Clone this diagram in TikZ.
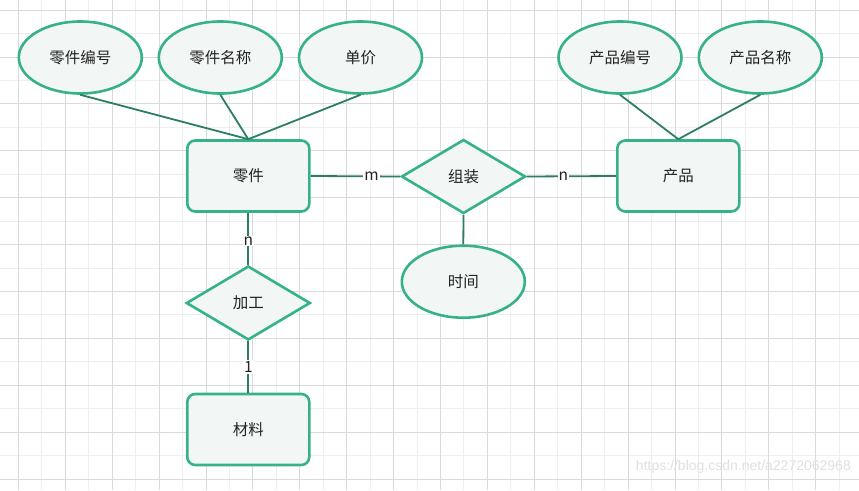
\documentclass[tikz,border=0pt]{standalone}
\usepackage{fontspec}
\setmainfont{Noto Sans CJK SC}
\newfontfamily\wmfont{Liberation Sans}
\usetikzlibrary{shapes.geometric}
\definecolor{shapeline}{HTML}{36B28B}
\definecolor{shapefill}{HTML}{F2F7F5}
\definecolor{conn}{HTML}{2D7D64}
\definecolor{gridmajor}{HTML}{DADADA}
\definecolor{gridminor}{HTML}{EEEEEE}
\definecolor{txt}{HTML}{222222}
\tikzset{
  attr/.style={ellipse, draw=shapeline, fill=shapefill, line width=2.6pt, inner sep=0pt,
    minimum width=123pt, minimum height=72pt, font=\fontsize{15.5}{18}\selectfont, text=txt},
  entity/.style={rectangle, rounded corners=8pt, draw=shapeline, fill=shapefill, line width=2.6pt,
    inner sep=0pt, minimum width=122pt, minimum height=71pt, font=\fontsize{15.5}{18}\selectfont, text=txt},
  rel/.style={diamond, draw=shapeline, fill=shapefill, line width=2.6pt, inner sep=0pt,
    minimum width=124pt, minimum height=74pt, font=\fontsize{15.5}{18}\selectfont, text=txt},
  link/.style={draw=conn, line width=1.8pt},
  card/.style={fill=white, inner sep=1pt, text=txt, font=\fontsize{15.5}{18}\selectfont},
}
\begin{document}
\begin{tikzpicture}[x=1pt, y=-1pt]
\useasboundingbox (0,0) rectangle (859,490);
\fill[white] (0,0) rectangle (859,490);
% grid
\foreach \k in {-1,...,18} {
  \draw[gridminor, line width=0.8pt] ({41.75+46.9*\k},0) -- ({41.75+46.9*\k},490);
}
\foreach \k in {-1,...,10} {
  \draw[gridminor, line width=0.8pt] (0,{33.45+46.9*\k}) -- (859,{33.45+46.9*\k});
}
\foreach \k in {0,...,18} {
  \draw[gridmajor, line width=0.8pt] ({18.3+46.9*\k},0) -- ({18.3+46.9*\k},490);
}
\foreach \k in {0,...,10} {
  \draw[gridmajor, line width=0.8pt] (0,{10+46.9*\k}) -- (859,{10+46.9*\k});
}
% watermark
\node[anchor=east, text=gridmajor!85, font=\wmfont\fontsize{14}{16}\selectfont, inner sep=0pt] (wm) at (851,467) {https://blog.csdn.net/a2272062968};

% attributes
\node[attr] (a1) at (80.3,57.5) {零件编号};
\node[attr] (a2) at (220.3,57.5) {零件名称};
\node[attr] (a3) at (360.5,57.5) {单价};
\node[attr] (a4) at (620,57.5) {产品编号};
\node[attr] (a5) at (760.3,57.5) {产品名称};
\node[attr] (a6) at (463.3,281.7) {时间};

% entities
\node[entity] (e1) at (248.3,176) {零件};
\node[entity] (e2) at (678.3,176) {产品};
\node[entity] (e3) at (248.3,429.5) {材料};

% relationships
\node[rel] (r1) at (463.5,176.5) {组装};
\node[rel] (r2) at (248.3,303) {加工};

% connectors
\draw[link] (a1.south) -- (e1.north);
\draw[link] (a2.south) -- (e1.north);
\draw[link] (a3.south) -- (e1.north);
\draw[link] (a4.south) -- (e2.north);
\draw[link] (a5.south) -- (e2.north);
\draw[link] (r1.south) -- (a6.north);
\draw[link] (e1.east) -- node[card, pos=0.68] {m} (r1.west);
\draw[link] (r1.east) -- node[card, pos=0.41] {n} (e2.west);
\draw[link] (e1.south) -- node[card, pos=0.54] {n} (r2.north);
\draw[link] (r2.south) -- node[card, pos=0.5] {1} (e3.north);
\end{tikzpicture}
\end{document}
